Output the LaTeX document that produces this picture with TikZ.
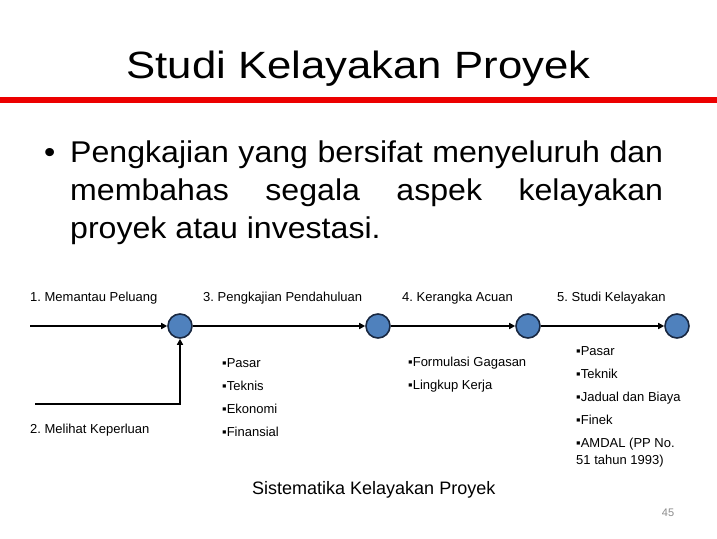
\documentclass[tikz,border=0pt]{standalone}
\usepackage{fontspec}
\setmainfont{Liberation Sans}
\newfontfamily\titlefont[FakeStretch=1.15]{Liberation Sans}
\newfontfamily\bodyfont[FakeStretch=1.07]{Liberation Sans}
\usetikzlibrary{arrows.meta}
\definecolor{redline}{RGB}{236,0,0}
\definecolor{circfill}{RGB}{79,129,189}
\definecolor{circdraw}{RGB}{25,40,65}
\definecolor{pagenum}{RGB}{140,140,140}
\frenchspacing
\begin{document}
\begin{tikzpicture}[x=1pt,y=-1pt,
  txt/.style={anchor=base west, inner sep=0pt, font=\fontsize{13}{15}\selectfont},
  body/.style={anchor=base west, inner sep=0pt, font=\bodyfont\fontsize{30}{34}\selectfont},
  circ/.style={circle, minimum size=24pt, inner sep=0pt, fill=circfill, draw=circdraw, line width=1.6pt},
  conn/.style={line width=2pt, -{Triangle[length=6pt,width=6pt]}}]
\fill[white] (0,0) rectangle (717,538);
\useasboundingbox (0,0) rectangle (717,538);
% title
\node[anchor=base, inner sep=0pt, font=\titlefont\fontsize{38}{42}\selectfont] (title) at (358.5,78) {Studi Kelayakan Proyek};
\fill[redline] (0,97) rectangle (717,103);
% bullet paragraph
\node[body] (dot) at (44,162) {•};
\node[body] (l1) at (70,162) {\makebox[593pt][s]{Pengkajian yang bersifat menyeluruh dan}};
\node[body] (l2) at (70,200) {\makebox[593pt][s]{membahas segala aspek kelayakan}};
\node[body] (l3) at (70,238) {proyek atau investasi.};
% diagram
\coordinate (s1) at (30,326);
\coordinate (s2) at (35,404);
\node[circ] (c1) at (180,326) {};
\node[circ] (c2) at (378,326) {};
\node[circ] (c3) at (528,326) {};
\node[circ] (c4) at (677,326) {};
\draw[conn] (s1) -- (c1);
\draw[conn] (c1) -- (c2);
\draw[conn] (c2) -- (c3);
\draw[conn] (c3) -- (c4);
\draw[conn] (s2) -- (s2 -| c1) -- (c1);
% stage labels
\node[txt] (t1) at (30,301.5) {1. Memantau Peluang};
\node[txt] (t3) at (203,301.5) {3. Pengkajian Pendahuluan};
\node[txt] (t4) at (402,301.5) {4. Kerangka Acuan};
\node[txt] (t5) at (557,301.5) {5. Studi Kelayakan};
\node[txt] (t2) at (30,433) {2. Melihat Keperluan};
% list 3
\node[txt] (p1) at (222,367) {▪Pasar};
\node[txt] (p2) at (222,390) {▪Teknis};
\node[txt] (p3) at (222,413) {▪Ekonomi};
\node[txt] (p4) at (222,436.5) {▪Finansial};
% list 4
\node[txt] (k1) at (408,366) {▪Formulasi Gagasan};
\node[txt] (k2) at (408,389) {▪Lingkup Kerja};
% list 5
\node[txt] (f1) at (576,355) {▪Pasar};
\node[txt] (f2) at (576,378) {▪Teknik};
\node[txt] (f3) at (576,401) {▪Jadual dan Biaya};
\node[txt] (f4) at (576,424) {▪Finek};
\node[txt] (f5) at (576,447.5) {▪AMDAL (PP No.};
\node[txt] (f6) at (576,464) {51 tahun 1993)};
% caption
\node[anchor=base west, inner sep=0pt, font=\fontsize{18}{20}\selectfont] (cap) at (252,494) {Sistematika Kelayakan Proyek};
\node[anchor=base, inner sep=0pt, text=pagenum, font=\fontsize{11}{13}\selectfont] (num) at (668,516) {45};
\end{tikzpicture}
\end{document}
